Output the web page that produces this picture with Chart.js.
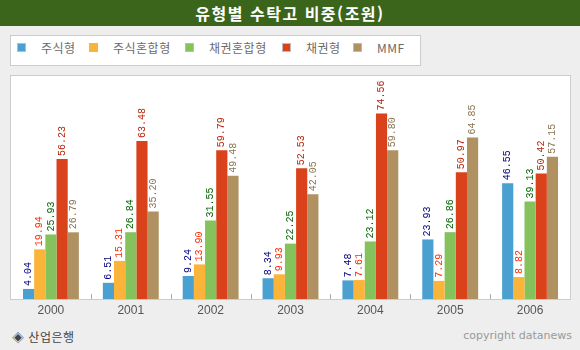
<!DOCTYPE html>
<html lang="ko">
<head>
<meta charset="UTF-8">
<title>유형별 수탁고 비중(조원)</title>
<script src="https://cdn.jsdelivr.net/npm/chart.js"></script>
<style>
  body { margin: 0; background: #eeeeee; width: 580px; height: 350px; position: relative; overflow: hidden;
         font-family: "Noto Sans CJK KR", sans-serif; }
  .title { position: absolute; left: 0; top: 0; width: 580px; height: 26px; background: #3c651c;
           color: #fff; font-weight: bold; font-size: 16px; letter-spacing: 1.5px; line-height: 26px; text-align: center; }
  .legend { position: absolute; left: 10px; top: 35px; width: 409px; height: 29px; background: #fff;
            border: 1px solid #cccccc; }
  .legend .sw { position: absolute; top: 7px; width: 7px; height: 7px; border: 1px solid #bbbbbb; }
  .legend .tx { position: absolute; top: 5px; font-size: 12px; line-height: 14px; color: #6a6a6a; letter-spacing: 0.5px; }
  .plot { position: absolute; left: 10px; top: 75px; width: 559px; height: 223px; background: #fff;
          border: 1px solid #cccccc; }
  .src { position: absolute; left: 12px; top: 328px; font-size: 12px; color: #444; letter-spacing: 0.5px; }
  .copy { position: absolute; right: 8px; top: 329px; font-family: "DejaVu Sans", sans-serif;
          font-size: 11px; color: #999; }
  canvas { position: absolute; left: 0; top: 0; }
</style>
</head>
<body>
  <div class="title">유형별 수탁고 비중(조원)</div>
  <div class="legend" id="legend"></div>
  <div class="plot"></div>
  <div class="src">◈ 산업은행</div>
  <div class="copy">copyright datanews</div>
  <canvas id="chart" width="580" height="350"></canvas>

<script>
  const years = ['2000', '2001', '2002', '2003', '2004', '2005', '2006'];
  const seriesNames = ['주식형', '주식혼합형', '채권혼합형', '채권형', 'MMF'];

  const stock      = [4.04, 6.51, 9.24, 8.34, 7.48, 23.93, 46.55];
  const stockMixed = [19.94, 15.31, 13.90, 9.93, 7.61, 7.29, 8.82];
  const bondMixed  = [25.93, 26.84, 31.55, 22.25, 23.12, 26.86, 39.13];
  const bond       = [56.23, 63.48, 59.79, 52.53, 74.56, 50.97, 50.42];
  const mmf        = [26.79, 35.20, 49.48, 42.05, 59.80, 64.85, 57.15];

  const barColors   = ['#4aa0d0', '#fbb43a', '#86c25c', '#d9421a', '#b09262'];
  const labelColors = ['#000080', '#ff2a00', '#006400', '#b8260a', '#8a7452'];

  // legend built as plain html
  const legendX = [6, 78, 174, 271, 342];
  const legend = document.getElementById('legend');
  seriesNames.forEach((name, i) => {
    const sw = document.createElement('div');
    sw.className = 'sw';
    sw.style.left = legendX[i] + 'px';
    sw.style.background = barColors[i];
    legend.appendChild(sw);
    const tx = document.createElement('div');
    tx.className = 'tx';
    tx.style.left = (legendX[i] + 24) + 'px';
    tx.textContent = name;
    legend.appendChild(tx);
  });

  // vertical value labels above every bar
  const valueLabels = {
    id: 'valueLabels',
    afterDatasetsDraw(chart) {
      const ctx = chart.ctx;
      ctx.save();
      ctx.font = '10px "Liberation Mono", "DejaVu Sans Mono", monospace';
      ctx.textAlign = 'left';
      ctx.textBaseline = 'middle';
      chart.data.datasets.forEach((ds, di) => {
        chart.getDatasetMeta(di).data.forEach((bar, i) => {
          ctx.save();
          ctx.translate(bar.x, bar.y - 3);
          ctx.rotate(-Math.PI / 2);
          ctx.fillStyle = labelColors[di];
          ctx.fillText(ds.data[i].toFixed(2), 0, 0);
          ctx.restore();
        });
      });
      ctx.restore();
    }
  };

  // small tick marks between categories, pointing up from the axis
  const catTicks = {
    id: 'catTicks',
    afterDraw(chart) {
      const x = chart.scales.x, a = chart.chartArea, ctx = chart.ctx;
      ctx.save();
      ctx.strokeStyle = '#aaaaaa';
      ctx.lineWidth = 1;
      for (let i = 1; i < years.length; i++) {
        const px = Math.round((x.getPixelForValue(i - 1) + x.getPixelForValue(i)) / 2) + 0.5;
        ctx.beginPath();
        ctx.moveTo(px, a.bottom);
        ctx.lineTo(px, a.bottom - 5);
        ctx.stroke();
      }
      ctx.restore();
    }
  };

  const seriesData = [stock, stockMixed, bondMixed, bond, mmf];

  new Chart(document.getElementById('chart'), {
    type: 'bar',
    data: {
      labels: years,
      datasets: seriesData.map((d, i) => ({
        label: seriesNames[i],
        data: d,
        backgroundColor: barColors[i],
        borderWidth: 0,
        categoryPercentage: 0.7,
        barPercentage: 1.0
      }))
    },
    options: {
      responsive: false,
      animation: false,
      layout: { padding: { left: 11, right: 10, top: 75, bottom: 29 } },
      plugins: { legend: { display: false }, tooltip: { enabled: false } },
      scales: {
        x: {
          grid: { display: false, drawTicks: false },
          border: { display: false },
          ticks: { color: '#555', padding: 4, font: { family: 'Liberation Sans', size: 12 } },
          afterFit(scale) { scale.height = 22; }
        },
        y: {
          display: false,
          min: 0,
          max: 90
        }
      }
    },
    plugins: [valueLabels, catTicks]
  });
</script>
</body>
</html>
